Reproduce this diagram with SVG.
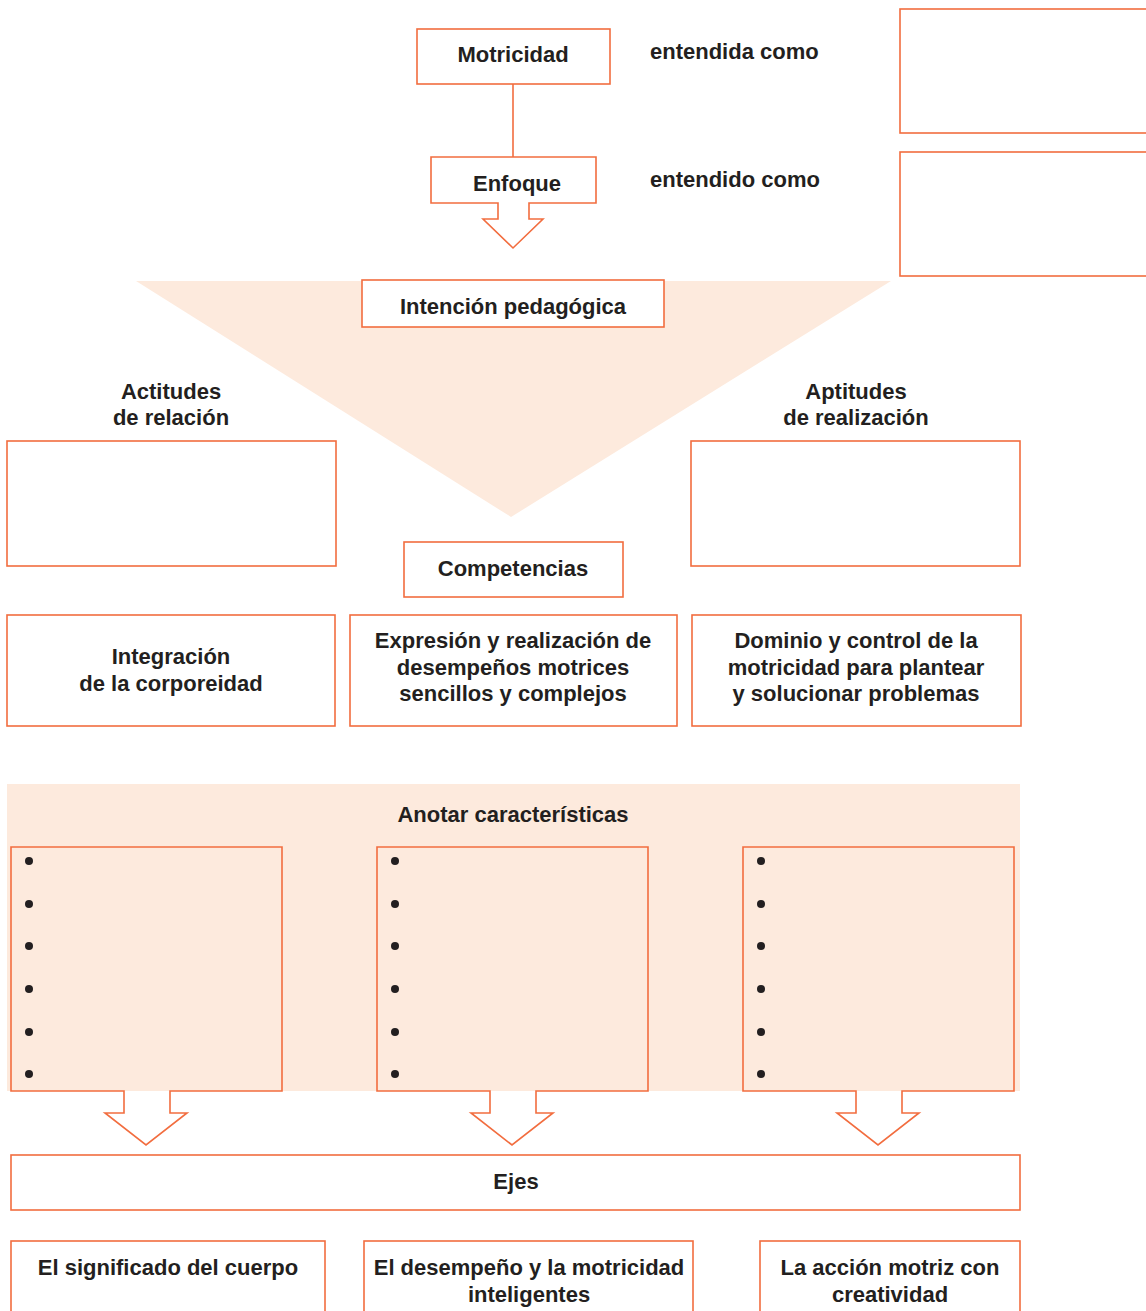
<svg xmlns="http://www.w3.org/2000/svg" width="1146" height="1311" viewBox="0 0 1146 1311">
<style>
.b{fill:none;stroke:#f26d3f;stroke-width:1.6}
.w{fill:#fff;stroke:#f26d3f;stroke-width:1.6}
.p{fill:#fdeadd}
text{font-family:"Liberation Sans",Arial,sans-serif;font-weight:bold;font-size:22px;fill:#231f20}
.c{text-anchor:middle}
.d{fill:#231f20}
</style>
<rect width="1146" height="1311" fill="#fff"/>
<polygon class="p" points="136,281 891,281 511,517"/>
<rect class="p" x="7" y="784" width="1013" height="307"/>
<g id="connectors">
<line class="b" x1="513" y1="84" x2="513" y2="157"/>
</g>
<g id="motricidad"><rect class="w" x="417" y="29" width="193" height="55"/><text class="c" x="513" y="62">Motricidad</text></g>
<g id="entendida"><text x="650" y="59">entendida como</text></g>
<g id="box-r1"><rect class="b" x="900" y="9" width="260" height="124"/></g>
<g id="enfoque"><path class="w" d="M431,157 H596 V203 H529 V219 H543 L513,248 L483,219 H498 V203 H431 Z"/><text class="c" x="517" y="191">Enfoque</text></g>
<g id="entendido"><text x="650" y="187">entendido como</text></g>
<g id="box-r2"><rect class="b" x="900" y="152" width="260" height="124"/></g>
<g id="intencion"><rect class="w" x="362" y="280" width="302" height="47"/><text class="c" x="513" y="314">Intención pedagógica</text></g>
<g id="actitudes"><text class="c" x="171" y="399">Actitudes</text><text class="c" x="171" y="425">de relación</text><rect class="w" x="7" y="441" width="329" height="125"/></g>
<g id="aptitudes"><text class="c" x="856" y="399">Aptitudes</text><text class="c" x="856" y="425">de realización</text><rect class="w" x="691" y="441" width="329" height="125"/></g>
<g id="competencias"><rect class="w" x="404" y="542" width="219" height="55"/><text class="c" x="513" y="576">Competencias</text></g>
<g id="comp1"><rect class="w" x="7" y="615" width="328" height="111"/><text class="c" x="171" y="664">Integración</text><text class="c" x="171" y="691">de la corporeidad</text></g>
<g id="comp2"><rect class="w" x="350" y="615" width="327" height="111"/><text class="c" x="513" y="648">Expresión y realización de</text><text class="c" x="513" y="675">desempeños motrices</text><text class="c" x="513" y="701">sencillos y complejos</text></g>
<g id="comp3"><rect class="w" x="692" y="615" width="329" height="111"/><text class="c" x="856" y="648">Dominio y control de la</text><text class="c" x="856" y="675">motricidad para plantear</text><text class="c" x="856" y="701">y solucionar problemas</text></g>
<g id="anotar"><text class="c" x="513" y="822">Anotar características</text></g>
<g id="car1"><path class="b" d="M11,847 H282 V1091 H170 V1113 H187 L146,1145 L105,1113 H124 V1091 H11 Z"/>
<g class="d"><circle cx="29" cy="861" r="4"/><circle cx="29" cy="904" r="4"/><circle cx="29" cy="946" r="4"/><circle cx="29" cy="989" r="4"/><circle cx="29" cy="1032" r="4"/><circle cx="29" cy="1074" r="4"/></g></g>
<g id="car2"><path class="b" d="M377,847 H648 V1091 H536 V1113 H553 L512,1145 L471,1113 H490 V1091 H377 Z"/>
<g class="d"><circle cx="395" cy="861" r="4"/><circle cx="395" cy="904" r="4"/><circle cx="395" cy="946" r="4"/><circle cx="395" cy="989" r="4"/><circle cx="395" cy="1032" r="4"/><circle cx="395" cy="1074" r="4"/></g></g>
<g id="car3"><path class="b" d="M743,847 H1014 V1091 H902 V1113 H919 L878,1145 L837,1113 H856 V1091 H743 Z"/>
<g class="d"><circle cx="761" cy="861" r="4"/><circle cx="761" cy="904" r="4"/><circle cx="761" cy="946" r="4"/><circle cx="761" cy="989" r="4"/><circle cx="761" cy="1032" r="4"/><circle cx="761" cy="1074" r="4"/></g></g>
<g id="ejes"><rect class="w" x="11" y="1155" width="1009" height="55"/><text class="c" x="516" y="1189">Ejes</text></g>
<g id="eje1"><rect class="w" x="11" y="1241" width="314" height="90"/><text class="c" x="168" y="1275">El significado del cuerpo</text></g>
<g id="eje2"><rect class="w" x="364" y="1241" width="329" height="90"/><text class="c" x="529" y="1275">El desempeño y la motricidad</text><text class="c" x="529" y="1302">inteligentes</text></g>
<g id="eje3"><rect class="w" x="760" y="1241" width="260" height="90"/><text class="c" x="890" y="1275">La acción motriz con</text><text class="c" x="890" y="1302">creatividad</text></g>
</svg>
